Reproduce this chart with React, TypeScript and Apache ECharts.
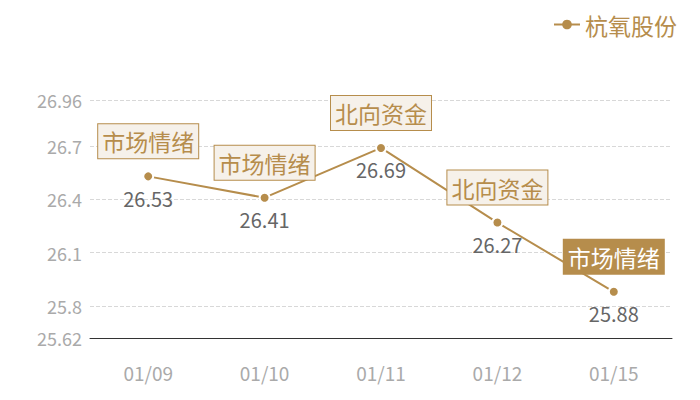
import React, { useEffect, useRef } from "react";
import * as echarts from "echarts";

const dates = ["01/09", "01/10", "01/11", "01/12", "01/15"];
const prices = [26.53, 26.41, 26.69, 26.27, 25.88];
const tags = ["市场情绪", "市场情绪", "北向资金", "北向资金", "市场情绪"];
const seriesName = "杭氧股份";

const GOLD = "#b68d4c";
const FONT = "'Noto Sans CJK SC', sans-serif";

const App = () => {
  const chartRef = useRef(null);

  useEffect(() => {
    const myChart = echarts.init(chartRef.current, null, { renderer: "svg" });

    const last = prices.length - 1;

    const option = {
      animation: false,
      textStyle: { fontFamily: FONT },
      legend: {
        right: 10,
        top: 0,
        itemWidth: 26,
        itemHeight: 12,
        itemGap: 6,
        itemStyle: { borderWidth: 0 },
        textStyle: { color: GOLD, fontSize: 23, fontFamily: FONT },
        data: [seriesName],
      },
      grid: { left: 82, right: 20, top: 92, bottom: 54 },
      xAxis: {
        type: "category",
        data: dates,
        axisLine: { lineStyle: { color: "#333", width: 1 } },
        axisTick: { show: false },
        axisLabel: { color: "#aaa", fontSize: 19, margin: 25 },
      },
      yAxis: {
        type: "value",
        min: 25.62,
        max: 26.96,
        axisLine: { show: false },
        axisTick: { show: false },
        axisLabel: { color: "#aaa", fontSize: 18, margin: 8 },
        splitLine: { lineStyle: { color: "#d8d8d8", type: "dashed" } },
      },
      series: [
        {
          name: seriesName,
          type: "line",
          data: prices,
          symbol: "circle",
          symbolSize: 10,
          lineStyle: { color: GOLD, width: 2 },
          itemStyle: { color: GOLD, borderColor: "#fff", borderWidth: 2 },
          label: {
            show: true,
            position: "bottom",
            distance: 6,
            color: "#666",
            fontSize: 20,
          },
          markPoint: {
            symbol: "circle",
            symbolSize: 0,
            data: prices.map((v, i) => ({
              coord: [i, v],
              label: {
                show: true,
                position: "inside",
                offset: [0, -35],
                formatter: tags[i],
                fontSize: 23,
                color: i === last ? "#fff" : GOLD,
                backgroundColor: i === last ? GOLD : "#f6f1ea",
                borderColor: GOLD,
                borderWidth: 1,
                padding: [6, 4, 5, 4],
              },
            })),
          },
        },
      ],
    };

    myChart.setOption(option);

    return () => {
      myChart.dispose();
    };
  }, []);

  return <div ref={chartRef} style={{ width: "684px", height: "384px" }}></div>;
};

export default App;
